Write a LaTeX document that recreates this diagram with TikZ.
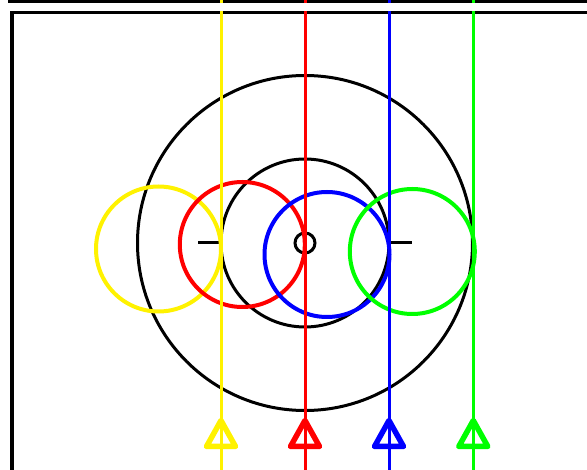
\documentclass[tikz,border=0pt]{standalone}
\begin{document}
\begin{tikzpicture}[x=1pt,y=-1pt,
  frame/.style={line width=3.5pt},
  ring/.style={line width=3pt},
  tick/.style={line width=3pt},
  disc/.style={line width=4pt},
  rail/.style={line width=3pt},
  marker/.style={line width=5.5pt, line join=round}]
\useasboundingbox (0,0) rectangle (587,470);
% frame lines
\draw[frame] (8,1.5) -- (587,1.5);
\draw[frame] (11.8,471) -- (11.8,12.5) -- (588,12.5);
% centre
\coordinate (C) at (305,243);
% black rings and ticks
\draw[ring] (C) circle[radius=167.5];
\draw[ring] (C) circle[radius=84];
\draw[ring] (C) circle[radius=10];
\draw[tick,line width=2pt] (305,138) -- (305,348);
\draw[tick] (198,243) -- (221,243);
\draw[tick] (389,243) -- (412,243);
% coloured circles
\draw[disc,yellow] (158.5,249) circle[radius=62.5];
\draw[disc,red] (242.3,244.5) circle[radius=62.5];
\draw[disc,blue] (327,254.5) circle[radius=62.5];
\draw[disc,green] (412.3,251.5) circle[radius=62.5];
% coloured rails
\foreach \x/\c in {221/yellow,305/red,389/blue,473.3/green}{
  \draw[rail,\c] (\x,0) -- (\x,471);
  \draw[marker,\c] (\x,420.5) -- (\x-14.5,446.5) -- (\x+14.5,446.5) -- cycle;
}
\fill[white] (0,3.4) rectangle (587,10.8);
\end{tikzpicture}
\end{document}
